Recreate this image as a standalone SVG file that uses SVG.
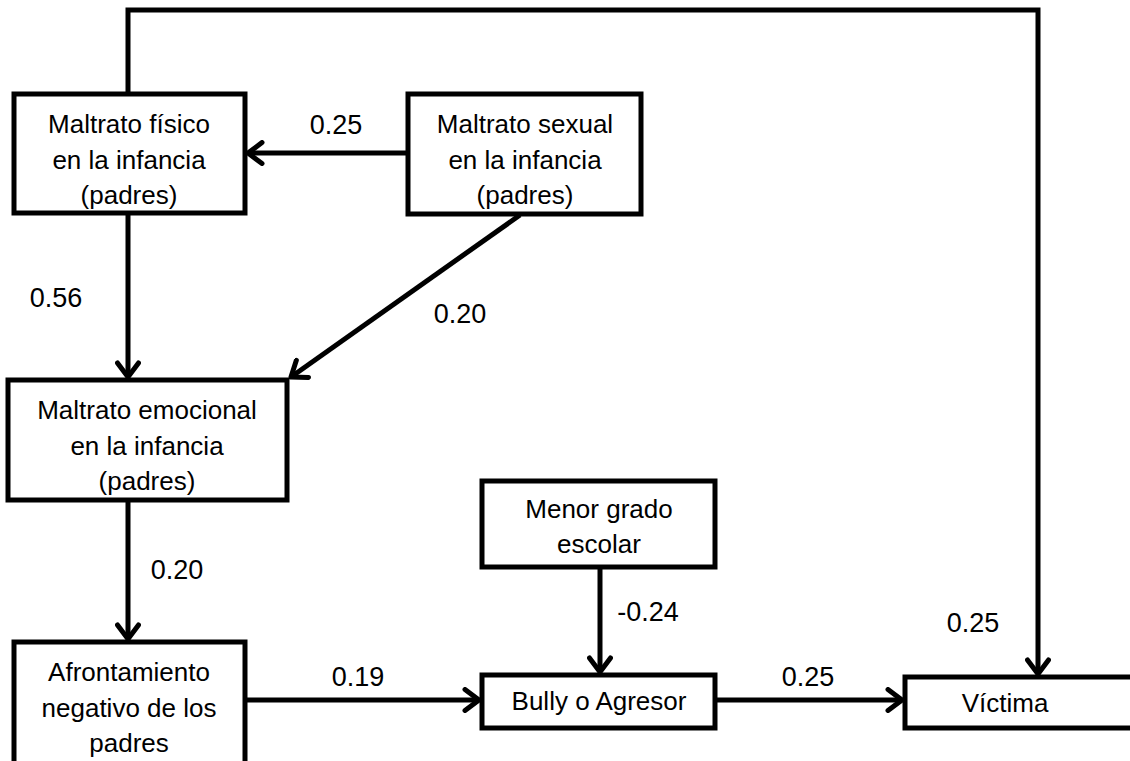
<svg xmlns="http://www.w3.org/2000/svg" width="1130" height="761" viewBox="0 0 1130 761">
<defs>
<style>
.box{fill:#fff;stroke:#000;stroke-width:5}
.t{font-family:"Liberation Sans",Arial,sans-serif;font-size:26px;fill:#000;text-anchor:middle}
.l{font-family:"Liberation Sans",Arial,sans-serif;font-size:27px;fill:#000;text-anchor:middle}
.c{fill:none;stroke:#000;stroke-width:5}
</style>
<marker id="ah" viewBox="0 0 24 26" refX="20" refY="13" markerWidth="24" markerHeight="26" markerUnits="userSpaceOnUse" orient="auto">
<polyline points="6,2.5 20,13 6,23.5" fill="none" stroke="#000" stroke-width="5" stroke-linecap="round" stroke-linejoin="round"/>
</marker>
</defs>
<rect width="1130" height="761" fill="#fff"/>
<g id="connectors">
<polyline class="c" points="128,94 128,10 1038,10 1038,674" marker-end="url(#ah)"/>
<line class="c" x1="408" y1="153" x2="248" y2="153" marker-end="url(#ah)"/>
<line class="c" x1="128" y1="213" x2="128" y2="377" marker-end="url(#ah)"/>
<line class="c" x1="520" y1="215" x2="291" y2="377" marker-end="url(#ah)"/>
<line class="c" x1="128" y1="500" x2="128" y2="639" marker-end="url(#ah)"/>
<line class="c" x1="245" y1="700" x2="479" y2="700" marker-end="url(#ah)"/>
<line class="c" x1="600" y1="567" x2="600" y2="672" marker-end="url(#ah)"/>
<line class="c" x1="715" y1="700" x2="902" y2="700" marker-end="url(#ah)"/>
<text class="l" x="336" y="134">0.25</text>
<text class="l" x="56" y="307">0.56</text>
<text class="l" x="460" y="323">0.20</text>
<text class="l" x="177" y="579">0.20</text>
<text class="l" x="358" y="686">0.19</text>
<text class="l" x="648" y="621">-0.24</text>
<text class="l" x="808" y="686">0.25</text>
<text class="l" x="973" y="632">0.25</text>
</g>
<g id="fisico">
<rect class="box" x="14" y="94" width="231" height="119"/>
<text class="t" x="129" y="133">Maltrato físico</text>
<text class="t" x="129" y="169">en la infancia</text>
<text class="t" x="129" y="204">(padres)</text>
</g>
<g id="sexual">
<rect class="box" x="408" y="94" width="233" height="120"/>
<text class="t" x="525" y="133">Maltrato sexual</text>
<text class="t" x="525" y="169">en la infancia</text>
<text class="t" x="525" y="204">(padres)</text>
</g>
<g id="emocional">
<rect class="box" x="8" y="380" width="279" height="120"/>
<text class="t" x="147" y="419">Maltrato emocional</text>
<text class="t" x="147" y="455">en la infancia</text>
<text class="t" x="147" y="490">(padres)</text>
</g>
<g id="afrontamiento">
<rect class="box" x="14" y="642" width="231" height="125"/>
<text class="t" x="129" y="681">Afrontamiento</text>
<text class="t" x="129" y="717">negativo de los</text>
<text class="t" x="129" y="752">padres</text>
</g>
<g id="menor">
<rect class="box" x="482" y="481" width="233" height="86"/>
<text class="t" x="599" y="518">Menor grado</text>
<text class="t" x="599" y="553">escolar</text>
</g>
<g id="bully">
<rect class="box" x="482" y="675" width="233" height="53"/>
<text class="t" x="599" y="710">Bully o Agresor</text>
</g>
<g id="victima">
<rect class="box" x="905" y="677" width="240" height="51"/>
<text class="t" x="1005" y="712">Víctima</text>
</g>
</svg>
